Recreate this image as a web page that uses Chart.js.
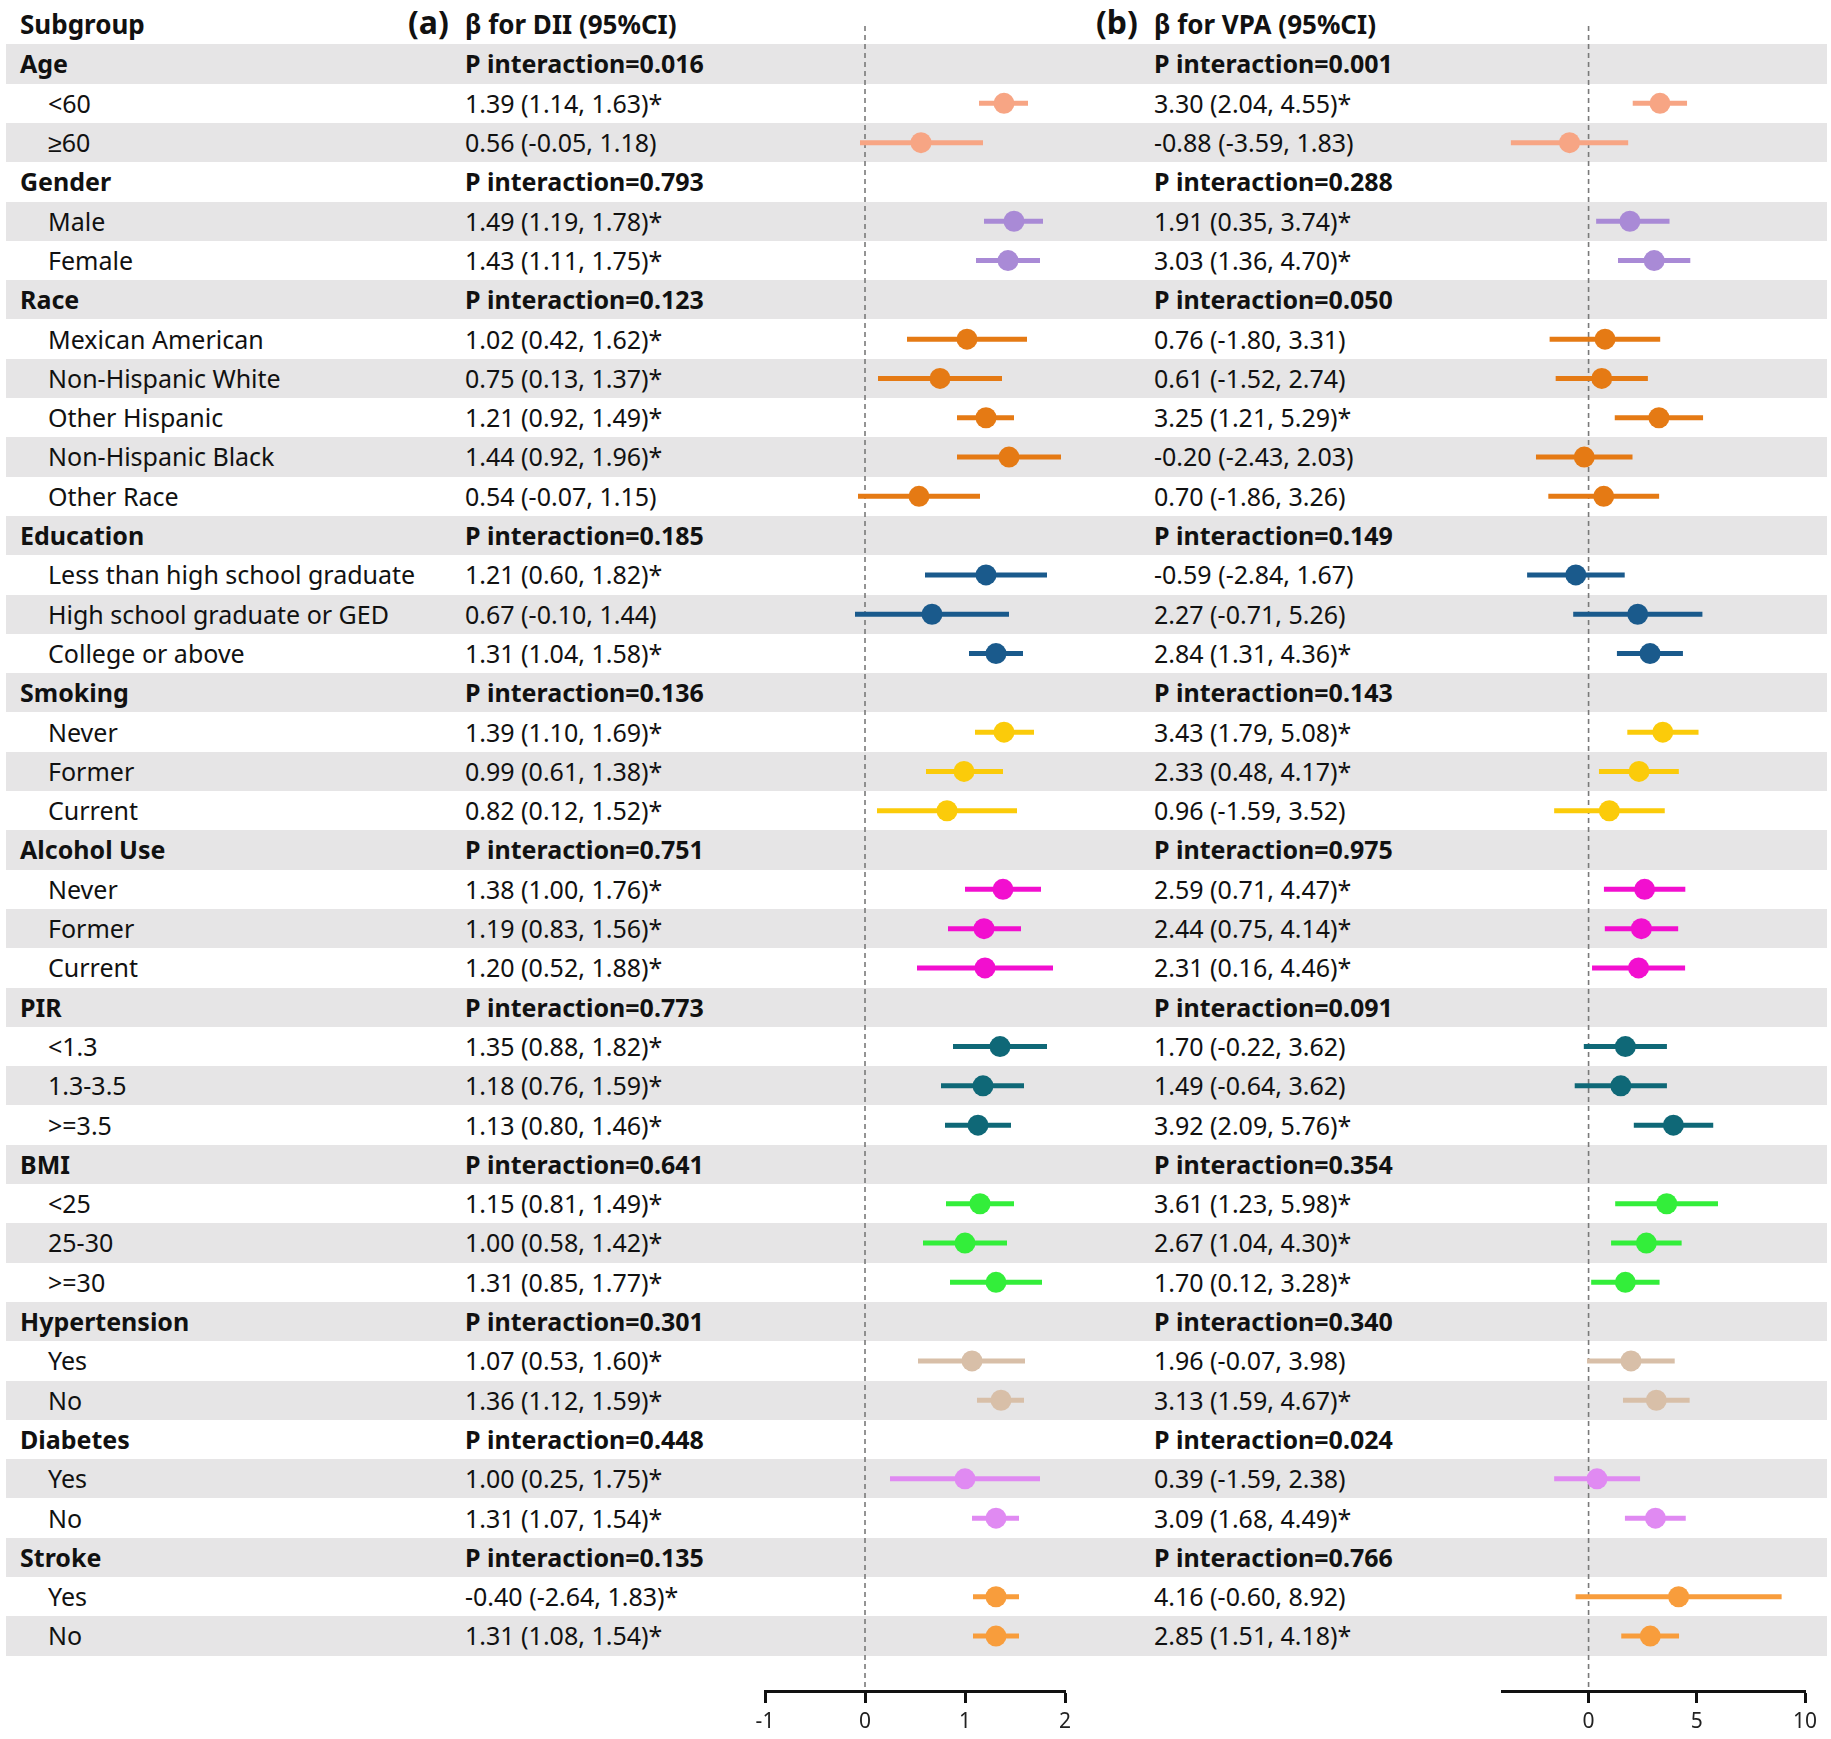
<!DOCTYPE html>
<html>
<head>
<meta charset="utf-8">
<script src="https://cdn.jsdelivr.net/npm/chart.js@4.4.1/dist/chart.umd.min.js"></script>
<style>
	body { margin: 0; background: #fff; }
	#page { position: relative; width: 1831px; height: 1739px; overflow: hidden; font-family: 'Noto Sans', sans-serif; color: #111; }
	.stripe { position: absolute; left: 6px; width: 1821px; background: #e6e5e6; }
	.txt { position: absolute; white-space: nowrap; font-size: 25px; }
	.bold { font-weight: bold; }
	canvas { position: absolute; }
</style>
</head>
<body>
<div id="page">
	<canvas id="dii-canvas"></canvas>
	<canvas id="vpa-canvas"></canvas>
</div>
<script>
// rows, top to bottom
const rowLabels = ['Age', '<60', '≥60', 'Gender', 'Male', 'Female', 'Race', 'Mexican American', 'Non-Hispanic White', 'Other Hispanic', 'Non-Hispanic Black', 'Other Race', 'Education', 'Less than high school graduate', 'High school graduate or GED', 'College or above', 'Smoking', 'Never', 'Former', 'Current', 'Alcohol Use', 'Never', 'Former', 'Current', 'PIR', '<1.3', '1.3-3.5', '>=3.5', 'BMI', '<25', '25-30', '>=30', 'Hypertension', 'Yes', 'No', 'Diabetes', 'Yes', 'No', 'Stroke', 'Yes', 'No'];
const headerRows = [0, 3, 6, 12, 16, 20, 24, 28, 32, 35, 38];
const groupColors = ['#f7a584', '#a98ad6', '#e57a14', '#1a5a8c', '#fbcb0a', '#f20fcf', '#0f6877', '#33ee3a', '#d8bfa8', '#e08af2', '#f89d3c'];

const diiText = ['P interaction=0.016', '1.39 (1.14, 1.63)*', '0.56 (-0.05, 1.18)', 'P interaction=0.793', '1.49 (1.19, 1.78)*', '1.43 (1.11, 1.75)*', 'P interaction=0.123', '1.02 (0.42, 1.62)*', '0.75 (0.13, 1.37)*', '1.21 (0.92, 1.49)*', '1.44 (0.92, 1.96)*', '0.54 (-0.07, 1.15)', 'P interaction=0.185', '1.21 (0.60, 1.82)*', '0.67 (-0.10, 1.44)', '1.31 (1.04, 1.58)*', 'P interaction=0.136', '1.39 (1.10, 1.69)*', '0.99 (0.61, 1.38)*', '0.82 (0.12, 1.52)*', 'P interaction=0.751', '1.38 (1.00, 1.76)*', '1.19 (0.83, 1.56)*', '1.20 (0.52, 1.88)*', 'P interaction=0.773', '1.35 (0.88, 1.82)*', '1.18 (0.76, 1.59)*', '1.13 (0.80, 1.46)*', 'P interaction=0.641', '1.15 (0.81, 1.49)*', '1.00 (0.58, 1.42)*', '1.31 (0.85, 1.77)*', 'P interaction=0.301', '1.07 (0.53, 1.60)*', '1.36 (1.12, 1.59)*', 'P interaction=0.448', '1.00 (0.25, 1.75)*', '1.31 (1.07, 1.54)*', 'P interaction=0.135', '-0.40 (-2.64, 1.83)*', '1.31 (1.08, 1.54)*'];
const vpaText = ['P interaction=0.001', '3.30 (2.04, 4.55)*', '-0.88 (-3.59, 1.83)', 'P interaction=0.288', '1.91 (0.35, 3.74)*', '3.03 (1.36, 4.70)*', 'P interaction=0.050', '0.76 (-1.80, 3.31)', '0.61 (-1.52, 2.74)', '3.25 (1.21, 5.29)*', '-0.20 (-2.43, 2.03)', '0.70 (-1.86, 3.26)', 'P interaction=0.149', '-0.59 (-2.84, 1.67)', '2.27 (-0.71, 5.26)', '2.84 (1.31, 4.36)*', 'P interaction=0.143', '3.43 (1.79, 5.08)*', '2.33 (0.48, 4.17)*', '0.96 (-1.59, 3.52)', 'P interaction=0.975', '2.59 (0.71, 4.47)*', '2.44 (0.75, 4.14)*', '2.31 (0.16, 4.46)*', 'P interaction=0.091', '1.70 (-0.22, 3.62)', '1.49 (-0.64, 3.62)', '3.92 (2.09, 5.76)*', 'P interaction=0.354', '3.61 (1.23, 5.98)*', '2.67 (1.04, 4.30)*', '1.70 (0.12, 3.28)*', 'P interaction=0.340', '1.96 (-0.07, 3.98)', '3.13 (1.59, 4.67)*', 'P interaction=0.024', '0.39 (-1.59, 2.38)', '3.09 (1.68, 4.49)*', 'P interaction=0.766', '4.16 (-0.60, 8.92)', '2.85 (1.51, 4.18)*'];

// plotted values as drawn (null on header rows)
const diiEst  = [null, 1.39, 0.56, null, 1.49, 1.43, null, 1.02, 0.75, 1.21, 1.44, 0.54, null, 1.21, 0.67, 1.31, null, 1.39, 0.99, 0.82, null, 1.38, 1.19, 1.20, null, 1.35, 1.18, 1.13, null, 1.15, 1.00, 1.31, null, 1.07, 1.36, null, 1.00, 1.31, null, 1.31, 1.31];
const diiLow  = [null, 1.14, -0.05, null, 1.19, 1.11, null, 0.42, 0.13, 0.92, 0.92, -0.07, null, 0.60, -0.10, 1.04, null, 1.10, 0.61, 0.12, null, 1.00, 0.83, 0.52, null, 0.88, 0.76, 0.80, null, 0.81, 0.58, 0.85, null, 0.53, 1.12, null, 0.25, 1.07, null, 1.08, 1.08];
const diiHigh = [null, 1.63, 1.18, null, 1.78, 1.75, null, 1.62, 1.37, 1.49, 1.96, 1.15, null, 1.82, 1.44, 1.58, null, 1.69, 1.38, 1.52, null, 1.76, 1.56, 1.88, null, 1.82, 1.59, 1.46, null, 1.49, 1.42, 1.77, null, 1.60, 1.59, null, 1.75, 1.54, null, 1.54, 1.54];
const vpaEst  = [null, 3.30, -0.88, null, 1.91, 3.03, null, 0.76, 0.61, 3.25, -0.20, 0.70, null, -0.59, 2.27, 2.84, null, 3.43, 2.33, 0.96, null, 2.59, 2.44, 2.31, null, 1.70, 1.49, 3.92, null, 3.61, 2.67, 1.70, null, 1.96, 3.13, null, 0.39, 3.09, null, 4.16, 2.85];
const vpaLow  = [null, 2.04, -3.59, null, 0.35, 1.36, null, -1.80, -1.52, 1.21, -2.43, -1.86, null, -2.84, -0.71, 1.31, null, 1.79, 0.48, -1.59, null, 0.71, 0.75, 0.16, null, -0.22, -0.64, 2.09, null, 1.23, 1.04, 0.12, null, -0.07, 1.59, null, -1.59, 1.68, null, -0.60, 1.51];
const vpaHigh = [null, 4.55, 1.83, null, 3.74, 4.70, null, 3.31, 2.74, 5.29, 2.03, 3.26, null, 1.67, 5.26, 4.36, null, 5.08, 4.17, 3.52, null, 4.47, 4.14, 4.46, null, 3.62, 3.62, 5.76, null, 5.98, 4.30, 3.28, null, 3.98, 4.67, null, 2.38, 4.49, null, 8.92, 4.18];

const diiTicks = [-1, 0, 1, 2];
const vpaTicks = [0, 5, 10];

// layout
const rowTop = 44.4;
const rowH = 39.3;
const plotTop = 26;
const plotBottom = 1691;
const axisH = 48;
const padX = 20;

const page = document.getElementById('page');

function rowColor (index) {
	let g = -1;
	headerRows.forEach(h => { if (h <= index) g++; });
	return groupColors[g];
}

function addText (text, x, yTop, h, cls, size) {
	const el = document.createElement('div');
	el.className = 'txt ' + (cls || '');
	el.textContent = text;
	el.style.left = x + 'px';
	el.style.top = yTop + 'px';
	el.style.height = h + 'px';
	el.style.lineHeight = h + 'px';
	if (size) el.style.fontSize = size + 'px';
	page.appendChild(el);
}

function buildTable () {
	rowLabels.forEach((label, i) => {
		const top = rowTop + rowH * i;
		const isHeader = headerRows.includes(i);

		if (i % 2 == 0) {
			const stripe = document.createElement('div');
			stripe.className = 'stripe';
			stripe.style.top = top + 'px';
			stripe.style.height = rowH + 'px';
			page.insertBefore(stripe, page.firstChild);
		}

		addText(label, isHeader ? 20 : 48, top, rowH, isHeader ? 'bold' : '');
		addText(diiText[i], 465, top, rowH, isHeader ? 'bold' : '');
		addText(vpaText[i], 1154, top, rowH, isHeader ? 'bold' : '');
	});

	addText('Subgroup', 20, 4, 40, 'bold', 26);
	addText('(a)', 408, 1, 42, 'bold', 32);
	addText('β  for DII (95%CI)', 465, 4, 40, 'bold', 26);
	addText('(b)', 1096, 1, 42, 'bold', 32);
	addText('β  for VPA (95%CI)', 1154, 4, 40, 'bold', 26);
}

const zeroLine = {
	id: 'zeroLine',
	beforeDatasetsDraw (chart) {
		const x = chart.scales.x.getPixelForValue(0);
		const area = chart.chartArea;
		const ctx = chart.ctx;
		ctx.save();
		ctx.strokeStyle = '#7a7a7a';
		ctx.lineWidth = 1.6;
		ctx.setLineDash([5, 4]);
		ctx.beginPath();
		ctx.moveTo(x, 0);
		ctx.lineTo(x, area.bottom);
		ctx.stroke();
		ctx.restore();
	}
};

function buildForest (canvasId, left, plotW, xMin, xMax, est, low, high, ticks) {
	const canvas = document.getElementById(canvasId);
	canvas.width = plotW + padX * 2;
	canvas.height = plotBottom - plotTop + axisH;
	canvas.style.left = (left - padX) + 'px';
	canvas.style.top = plotTop + 'px';

	const datasets = [];
	const points = [];
	const pointColors = [];

	est.forEach((value, i) => {
		if (value === null) return;
		const color = rowColor(i);
		datasets.push({
			type: 'scatter',
			showLine: true,
			data: [{ x: low[i], y: i }, { x: high[i], y: i }],
			borderColor: color,
			borderWidth: 5,
			pointRadius: 0,
			order: 2
		});
		points.push({ x: value, y: i });
		pointColors.push(color);
	});

	datasets.push({
		type: 'scatter',
		data: points,
		pointRadius: 10.5,
		pointBorderWidth: 0,
		pointBackgroundColor: pointColors,
		order: 1
	});

	const chart = new Chart(canvas, {
		type: 'scatter',
		data: { datasets: datasets },
		plugins: [zeroLine],
		options: {
			responsive: false,
			animation: false,
			events: [],
			layout: { padding: { left: padX, right: padX, top: 0, bottom: 0 } },
			plugins: { legend: { display: false }, tooltip: { enabled: false } },
			scales: {
				y: {
					type: 'linear',
					display: false,
					reverse: true,
					min: -1,
					max: 41
				},
				x: {
					type: 'linear',
					min: xMin,
					max: xMax,
					afterBuildTicks: (scale) => { scale.ticks = ticks.map(v => ({ value: v })); },
					afterFit: (scale) => { scale.height = axisH; },
					grid: { drawOnChartArea: false, drawTicks: true, tickLength: 12, tickWidth: 3, tickColor: '#111' },
					border: { display: true, width: 3, color: '#111' },
					ticks: { color: '#222', padding: 6, maxRotation: 0, font: { family: 'Noto Sans', size: 21 } }
				}
			}
		}
	});

	// line rows up with the table: row i centre sits at rowTop + rowH * (i + 0.5)
	const area = chart.chartArea;
	const pageTop = plotTop + area.top;
	const pageBottom = plotTop + area.bottom;
	chart.options.scales.y.min = (pageTop - rowTop - rowH / 2) / rowH;
	chart.options.scales.y.max = (pageBottom - rowTop - rowH / 2) / rowH;
	chart.update();
}

buildTable();
buildForest('dii-canvas', 765, 300, -1, 2, diiEst, diiLow, diiHigh, diiTicks);
buildForest('vpa-canvas', 1502, 303, -4, 10, vpaEst, vpaLow, vpaHigh, vpaTicks);
</script>
</body>
</html>
